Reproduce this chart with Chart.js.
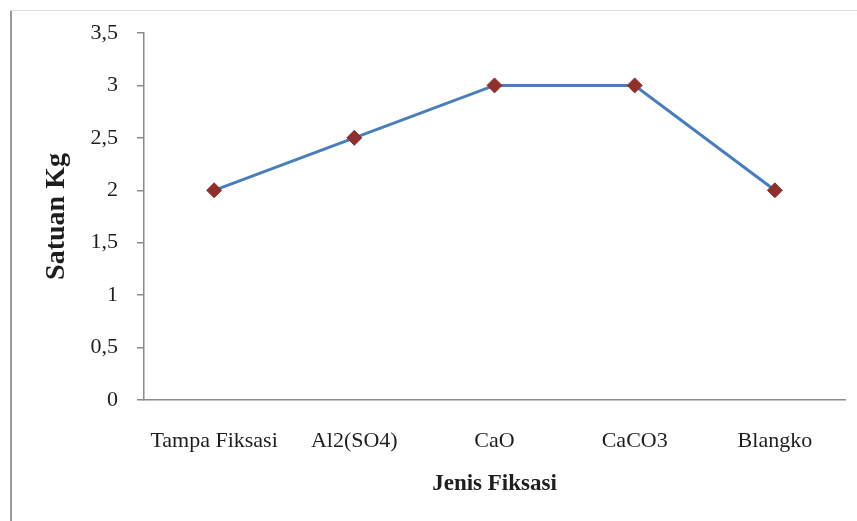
<!DOCTYPE html>
<html>
<head>
<meta charset="utf-8">
<script src="https://cdn.jsdelivr.net/npm/chart.js@4.4.1/dist/chart.umd.min.js"></script>
<style>
  html, body { margin: 0; padding: 0; background: #fff; }
  #wrap { position: relative; width: 857px; height: 521px; }
  #frameLeft { position: absolute; left: 10px; top: 10px; width: 2px; height: 511px; background: #9a9a9a; }
  #frameTop { position: absolute; left: 10px; top: 10px; width: 847px; height: 1px; background: #dcdcdc; }
  canvas { position: absolute; left: 0; top: 0; }
</style>
</head>
<body>
<div id="wrap">
  <canvas id="chart" width="857" height="521"></canvas>
  <div id="frameLeft"></div>
  <div id="frameTop"></div>
</div>
<script>
// Hasil per jenis fiksasi (kg)
const categories = ['Tampa Fiksasi', 'Al2(SO4)', 'CaO', 'CaCO3', 'Blangko'];
const values = [2, 2.5, 3, 3, 2];
const yTicks = [0, 0.5, 1, 1.5, 2, 2.5, 3, 3.5];

const serif = "'Liberation Serif', 'Times New Roman', serif";
const textColor = '#1e1e1e';
const axisGray = '#8a8a8a';

new Chart(document.getElementById('chart'), {
  type: 'line',
  data: {
    labels: categories,
    datasets: [{
      label: 'Satuan Kg',
      data: values,
      borderColor: '#4a7ebb',
      borderWidth: 3,
      pointStyle: 'rectRot',
      pointRadius: 7.5,
      pointHoverRadius: 7.5,
      pointBackgroundColor: '#8e302d',
      pointBorderColor: '#8e302d',
      pointBorderWidth: 1,
      tension: 0,
      fill: false
    }]
  },
  options: {
    responsive: false,
    animation: false,
    layout: { padding: { top: 33, right: 12, bottom: 0, left: 0 } },
    plugins: { legend: { display: false }, tooltip: { enabled: false } },
    scales: {
      x: {
        type: 'category',
        offset: true,
        grid: { display: false },
        border: { display: true, color: axisGray, width: 1.5 },
        ticks: { color: textColor, font: { family: serif, size: 22 }, padding: 20, maxRotation: 0 },
        title: {
          display: true,
          text: 'Jenis Fiksasi',
          color: textColor,
          font: { family: serif, size: 23, weight: 'bold' },
          padding: { top: 23, bottom: 23 }
        },
        afterFit: s => { s.height = 121; }
      },
      y: {
        min: 0,
        max: 3.5,
        afterBuildTicks: s => { s.ticks = yTicks.map(v => ({ value: v })); },
        grid: { drawOnChartArea: false, drawTicks: true, tickLength: 7, color: axisGray, lineWidth: 1.5 },
        border: { display: true, color: axisGray, width: 1.5 },
        ticks: {
          color: textColor,
          font: { family: serif, size: 22 },
          padding: 19,
          callback: v => String(v).replace('.', ',')
        },
        title: {
          display: true,
          text: 'Satuan Kg',
          color: textColor,
          font: { family: serif, size: 28, weight: 'bold' },
          padding: { top: 40, bottom: 40 }
        },
        afterFit: s => { s.width = 144; }
      }
    }
  }
});
</script>
</body>
</html>
